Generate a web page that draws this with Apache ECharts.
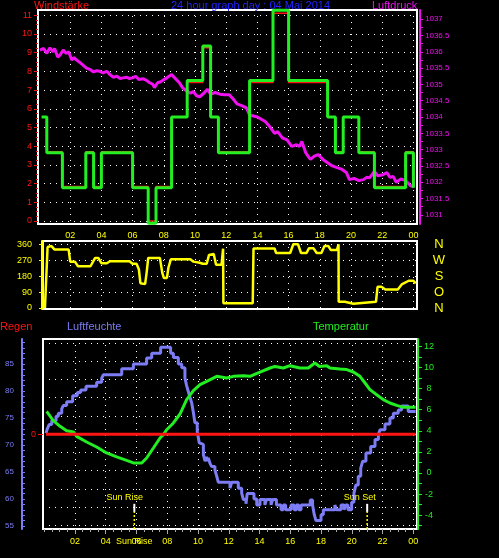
<!DOCTYPE html>
<html>
<head>
<meta charset="utf-8">
<script src="https://cdn.jsdelivr.net/npm/echarts@6/dist/echarts.min.js"></script>
<style>
html, body { margin: 0; padding: 0; background: #000; }
#chart { width: 499px; height: 558px; }
</style>
</head>
<body>
<div id="chart"></div>
<script>
// tick labels
var hourTicks = [2, 4, 6, 8, 10, 12, 14, 16, 18, 20, 22, 24]
var windTicks = [0, 1, 2, 3, 4, 5, 6, 7, 8, 9, 10, 11]
var pressureLabels = [1031, 1031.5, 1032, 1032.5, 1033, 1033.5, 1034, 1034.5, 1035, 1035.5, 1036, 1036.5, 1037]
var dirTicks = [0, 90, 180, 270, 360]
var dirNames = ['N', 'O', 'S', 'W', 'N']
var humLabels = [55, 60, 65, 70, 75, 80, 85]
var tempLabels = [-4, -2, 0, 2, 4, 6, 8, 10, 12]
var rainLabels = [0]

// wind (Windstärke), step changes: hour -> value
var windTimes = [0.17, 0.5, 1.5, 3.0, 3.5, 4.0, 6.0, 7.0, 7.5, 8.5, 9.5, 10.5, 11.0, 11.5, 13.5, 15.0, 16.0, 18.5, 19.0, 19.5, 20.5, 21.5, 23.5, 24.0]
var windGreen = [5.56, 3.65, 1.78, 3.65, 1.78, 3.65, 1.78, -0.12, 1.78, 5.56, 7.51, 9.36, 5.56, 3.65, 7.51, 11.27, 7.51, 5.56, 3.65, 5.56, 3.65, 1.78, 3.65, 1.78]
var windRed = [5.56, 3.70, 1.85, 3.70, 1.85, 3.70, 1.85, 0, 1.85, 5.56, 7.41, 9.26, 5.56, 3.70, 7.41, 11.11, 7.41, 5.56, 3.70, 5.56, 3.70, 1.85, 3.70, 1.85]

// Luftdruck
var pressureTimes = [0.06, 0.3, 0.5, 0.7, 0.9, 1.0, 1.2, 1.35, 1.55, 1.75, 1.9, 2.1, 2.25, 2.4, 2.6, 2.8, 3.05, 3.3, 3.5, 3.7, 3.9, 4.1, 4.35, 4.55, 4.75, 5.0, 5.2, 5.4, 5.6, 5.8, 6.0, 6.2, 6.4, 6.7, 6.9, 7.1, 7.3, 7.4, 7.6, 7.8, 7.95, 8.2, 8.5, 8.7, 8.8, 9.0, 9.2, 9.45, 9.7, 9.9, 10.1, 10.3, 10.55, 10.8, 11.0, 11.3, 11.6, 11.9, 12.2, 12.45, 12.7, 13.0, 13.3, 13.5, 14.0, 14.5, 14.8, 15.1, 15.3, 15.6, 15.9, 16.2, 16.5, 16.7, 16.85, 17.1, 17.4, 17.65, 17.9, 18.2, 18.5, 18.8, 19.1, 19.4, 19.7, 19.9, 20.2, 20.5, 20.8, 21.0, 21.2, 21.5, 21.7, 22.05, 22.3, 22.5, 22.7, 22.9, 23.2, 23.5, 23.8, 24.0]
var pressureValues = [1036.05, 1036.1, 1035.95, 1036.12, 1036.0, 1036.1, 1035.84, 1035.9, 1036.05, 1035.95, 1036.0, 1035.75, 1035.82, 1035.75, 1035.68, 1035.6, 1035.5, 1035.45, 1035.38, 1035.42, 1035.4, 1035.35, 1035.4, 1035.3, 1035.22, 1035.25, 1035.18, 1035.2, 1035.22, 1035.18, 1035.2, 1035.25, 1035.15, 1035.17, 1035.12, 1035.05, 1035.0, 1034.9, 1035.05, 1035.08, 1035.13, 1035.2, 1035.3, 1035.2, 1035.23, 1035.05, 1034.9, 1034.8, 1034.73, 1034.78, 1034.65, 1034.62, 1034.72, 1034.85, 1034.7, 1034.75, 1034.7, 1034.68, 1034.68, 1034.55, 1034.4, 1034.35, 1034.28, 1034.06, 1034.0, 1033.86, 1033.7, 1033.5, 1033.55, 1033.36, 1033.3, 1033.1, 1033.15, 1033.1, 1033.25, 1032.9, 1032.7, 1032.8, 1032.85, 1032.7, 1032.6, 1032.5, 1032.45, 1032.4, 1032.3, 1032.08, 1032.12, 1032.05, 1032.08, 1032.15, 1032.14, 1032.33, 1032.2, 1032.23, 1032.3, 1032.15, 1032.18, 1032.0, 1032.1, 1032.05, 1031.9, 1031.86]

// Windrichtung (degrees)
var dirTimes = [0.38, 0.55, 0.8, 1.0, 1.9, 2.0, 2.3, 2.5, 3.3, 3.6, 3.8, 4.0, 4.35, 4.55, 5.8, 6.0, 6.25, 6.4, 6.5, 6.8, 6.9, 7.0, 7.75, 7.9, 8.0, 8.2, 8.3, 8.45, 9.7, 9.9, 10.3, 10.5, 10.75, 10.9, 11.0, 11.2, 11.35, 11.7, 11.8, 11.82, 13.7, 13.75, 15.1, 15.2, 16.1, 16.3, 16.6, 16.8, 17.15, 17.3, 17.6, 17.8, 18.1, 18.3, 18.55, 18.7, 19.1, 19.2, 19.21, 19.6, 19.7, 20.15, 20.25, 21.6, 21.7, 21.95, 22.2, 23.0, 23.25, 23.7, 24.0, 24.15]
var dirValues = [0, 345, 350, 330, 330, 262, 262, 236, 236, 283, 283, 253, 253, 264, 264, 250, 250, 219, 140, 135, 200, 283, 283, 200, 170, 170, 230, 275, 275, 262, 256, 250, 250, 300, 305, 305, 245, 245, 335, 27, 27, 336, 336, 311, 311, 360, 360, 311, 311, 337, 337, 311, 311, 350, 350, 328, 328, 360, 35, 35, 24, 24, 35, 35, 120, 120, 105, 105, 133, 154, 154, 139]

// Luftfeuchte, step changes
var humTimes = [0.12, 0.2, 0.33, 0.49, 0.77, 0.92, 1.14, 1.24, 1.46, 1.85, 2.15, 2.37, 2.72, 3.41, 3.74, 3.84, 5.04, 5.8, 6.66, 6.99, 7.57, 8.22, 8.4, 8.72, 8.94, 9.15, 9.26, 9.37, 9.48, 9.59, 9.7, 9.8, 9.95, 10.08, 10.2, 10.35, 10.46, 10.55, 10.62, 10.67, 10.78, 10.89, 11.1, 11.22, 11.32, 12.08, 12.19, 12.62, 12.84, 12.95, 13.12, 13.2, 13.64, 13.82, 14.03, 14.35, 14.45, 14.75, 14.85, 15.1, 15.4, 15.55, 15.7, 16.05, 16.25, 16.4, 16.55, 16.7, 17.3, 17.45, 17.56, 17.67, 18.0, 18.15, 18.9, 19.0, 19.3, 19.5, 19.6, 19.75, 19.99, 20.14, 20.27, 20.42, 20.58, 20.71, 20.92, 21.23, 21.51, 21.73, 21.83, 22.16, 22.48, 22.7, 23.02, 23.24, 23.67, 24.15]
var humValues = [72.2, 73, 73.8, 74.5, 75.3, 75.9, 76.7, 77.3, 78, 79.1, 79.7, 80.2, 80.9, 81.6, 82.4, 83, 84.1, 85, 86.1, 87, 88.1, 87, 86.2, 85, 84.3, 82.4, 81, 79.9, 78.8, 77.8, 76, 74.1, 72.5, 70.4, 70.1, 68.2, 67, 67.8, 67, 67.6, 66.6, 66, 65.4, 64.2, 63.1, 62, 63.1, 62, 61.1, 59.9, 59.1, 61, 60, 58.9, 59.9, 58.9, 59.9, 58.9, 59.9, 58.9, 58, 58.9, 58, 58.9, 58, 58.9, 58, 58.9, 59.8, 58.9, 57.1, 56, 57.1, 58, 58.9, 58, 58.9, 58, 58.9, 58, 59.4, 61.1, 62.6, 64.2, 65.7, 67, 68.5, 69.7, 71, 71.9, 72.8, 73.9, 75, 75.9, 76.5, 77.2, 76.2, 76.2]

// Temperatur
var tempTimes = [0.16, 0.59, 1.03, 1.46, 1.9, 2.11, 2.76, 3.41, 4.06, 4.71, 5.36, 5.8, 6.34, 6.66, 7.1, 7.53, 7.75, 7.96, 8.4, 8.83, 9.26, 9.7, 10.13, 10.57, 11.22, 11.87, 12.3, 12.95, 13.38, 14.03, 14.68, 15.0, 15.55, 15.98, 16.63, 17.17, 17.6, 17.9, 18.37, 18.58, 19.23, 19.67, 20.1, 20.53, 20.86, 21.18, 21.62, 22.05, 22.48, 22.92, 23.35, 24.15]
var tempValues = [5.84, 4.96, 4.42, 4.0, 3.89, 3.47, 2.94, 2.46, 1.9, 1.52, 1.19, 0.95, 0.95, 1.42, 2.37, 3.32, 3.63, 4.1, 4.74, 5.59, 6.95, 7.8, 8.37, 8.68, 9.16, 9.0, 9.16, 9.22, 9.16, 9.57, 9.95, 10.1, 9.95, 10.17, 9.95, 9.95, 10.42, 10.1, 10.17, 9.95, 9.86, 9.8, 9.57, 9.16, 8.53, 7.9, 7.42, 6.95, 6.63, 6.41, 6.22, 6.22]

// Regen
var rainTimes = [0.12, 24.15]
var rainValues = [0, 0]

// Sonnenauf- / -untergang
var sunTimes = [5.86, 21.0]
var sunNames = ['Sun Rise', 'Sun Set']

var RED = '#ff1414'
var GREEN = '#22ee22'
var MAGENTA = '#f010f0'
var YELLOW = '#ffff00'
var BLUE = '#7c7cf4'

function zip (a, b) {
  return a.map(function (t, i) { return [t, b[i]] })
}
function hh (v) {
  var h = Math.round(v) % 24
  return (h < 10 ? '0' : '') + h
}
function plain (v) {
  return String(v)
}
function steps (from, to, step) {
  var out = []
  for (var v = from; v <= to + 1e-9; v += step) out.push(Math.round(v * 100) / 100)
  return out
}

var dotted = { color: '#ffffff', width: 1, type: [1, 5] }
var noLine = { show: false, onZero: false }
var noSplit = { show: false }
var frame = { show: true, borderColor: '#ffffff', borderWidth: 2, backgroundColor: 'transparent' }
var font = 'Liberation Sans, Arial, sans-serif'

// x range of each panel (hours at the frame edges)
var xTop = [-0.064, 24.23]
var xMid = [0.256, 24.23]
var xBot = [-0.078, 24.24]

var sunSeries = []
sunTimes.forEach(function (t, i) {
  sunSeries.push({
    type: 'line', xAxisIndex: 2, yAxisIndex: 5, z: 8,
    data: [[t, 54.44], [t, 57.6]],
    showSymbol: false, clip: false,
    lineStyle: { color: YELLOW, width: 1.5, type: [2, 2] }
  })
  sunSeries.push({
    type: 'line', xAxisIndex: 2, yAxisIndex: 5, z: 9,
    data: [[t, 57.6], [t, 59.1]],
    showSymbol: false, clip: false,
    lineStyle: { color: '#ffffff', width: 2 },
    endLabel: {
      show: true, formatter: sunNames[i], color: YELLOW, fontSize: 9, fontFamily: font,
      align: 'center', verticalAlign: 'bottom', offset: [-(sunNames[i].length * 2.2), -2]
    }
  })
})

var chart = echarts.init(document.getElementById('chart'))
chart.setOption({
  animation: false,
  backgroundColor: '#000',
  textStyle: { fontFamily: font },
  title: [
    { text: 'Windstärke', left: 34, top: 0, padding: 0, textStyle: { color: RED, fontSize: 11, fontWeight: 'normal' } },
    { text: '24 hour graph day : 04 Mai 2014', left: 171, top: 0, padding: 0, textStyle: { color: '#2222ff', fontSize: 11, fontWeight: 'normal' } },
    { text: 'Luftdruck', left: 372, top: 0, padding: 0, textStyle: { color: MAGENTA, fontSize: 11, fontWeight: 'normal' } },
    { text: 'Regen', left: 0, top: 321, padding: 0, textStyle: { color: RED, fontSize: 11, fontWeight: 'normal' } },
    { text: 'Luftfeuchte', left: 67, top: 321, padding: 0, textStyle: { color: BLUE, fontSize: 11, fontWeight: 'normal' } },
    { text: 'Temperatur', left: 313, top: 321, padding: 0, textStyle: { color: GREEN, fontSize: 11, fontWeight: 'normal' } }
  ],
  grid: [
    Object.assign({ left: 38, top: 10, width: 379, height: 214 }, frame),
    Object.assign({ left: 43, top: 241, width: 374, height: 68 }, frame),
    Object.assign({ left: 43, top: 339, width: 374, height: 190 }, frame)
  ],
  xAxis: [
    {
      gridIndex: 0, type: 'value', position: 'bottom', min: xTop[0], max: xTop[1],
      axisLine: noLine,
      axisTick: { show: false, customValues: hourTicks },
      splitLine: { show: true, lineStyle: dotted },
      axisLabel: { customValues: hourTicks, formatter: hh, color: YELLOW, fontSize: 9, margin: 7 }
    },
    {
      gridIndex: 1, type: 'value', position: 'bottom', min: xMid[0], max: xMid[1],
      axisLine: noLine,
      axisTick: { show: false, customValues: hourTicks },
      splitLine: { show: true, lineStyle: dotted },
      axisLabel: { show: false }
    },
    {
      gridIndex: 2, type: 'value', position: 'bottom', min: xBot[0], max: xBot[1],
      axisLine: noLine,
      axisTick: { show: true, customValues: hourTicks, length: 5, lineStyle: { color: '#aaaaaa' } },
      splitLine: { show: true, lineStyle: dotted },
      axisLabel: { customValues: hourTicks, formatter: hh, color: YELLOW, fontSize: 9, margin: 8 }
    },
    {
      gridIndex: 2, type: 'value', position: 'bottom', min: xBot[0], max: xBot[1],
      axisLine: noLine,
      axisTick: { show: true, customValues: steps(0, 24, 0.5), length: 3, lineStyle: { color: '#aaaaaa' } },
      splitLine: noSplit,
      axisLabel: { customValues: [sunTimes[0]], formatter: function () { return sunNames[0] }, color: YELLOW, fontSize: 9, margin: 8 }
    }
  ],
  yAxis: [
    {
      gridIndex: 0, type: 'value', position: 'left', min: -0.16, max: 11.28,
      axisLine: noLine,
      axisTick: { show: true, customValues: windTicks, length: 4, lineStyle: { color: RED } },
      splitLine: { show: true, lineStyle: dotted },
      axisLabel: { customValues: windTicks, color: RED, fontSize: 9, margin: 6 }
    },
    {
      gridIndex: 0, type: 'value', position: 'left', min: -0.16, max: 11.28,
      axisLine: noLine,
      axisTick: { show: true, customValues: steps(0, 11, 0.25), length: 2, lineStyle: { color: RED } },
      splitLine: noSplit,
      axisLabel: { show: false }
    },
    {
      gridIndex: 0, type: 'value', position: 'right', min: 1030.72, max: 1037.28, offset: 3,
      axisLine: { show: true, onZero: false, lineStyle: { color: MAGENTA, width: 2 } },
      axisTick: { show: true, customValues: steps(1031, 1037, 0.25), length: 3, lineStyle: { color: MAGENTA } },
      splitLine: noSplit,
      axisLabel: { customValues: pressureLabels, formatter: plain, color: MAGENTA, fontSize: 8, margin: 5 }
    },
    {
      gridIndex: 1, type: 'value', position: 'left', min: -5.6, max: 378.6, offset: 1,
      axisLine: { show: true, onZero: false, lineStyle: { color: YELLOW, width: 2 } },
      axisTick: { show: true, customValues: dirTicks, length: 3, lineStyle: { color: YELLOW } },
      splitLine: { show: true, lineStyle: dotted },
      axisLabel: { customValues: dirTicks, color: YELLOW, fontSize: 9, margin: 10 }
    },
    {
      gridIndex: 1, type: 'value', position: 'right', min: -5.6, max: 378.6,
      axisLine: noLine,
      axisTick: { show: false, customValues: dirTicks },
      splitLine: noSplit,
      axisLabel: {
        customValues: dirTicks, color: YELLOW, fontSize: 13, margin: 22, align: 'center',
        formatter: function (v) { return dirNames[dirTicks.indexOf(v)] }
      }
    },
    {
      gridIndex: 2, type: 'value', position: 'left', min: 54.44, max: 89.63, offset: 21,
      axisLine: { show: true, onZero: false, lineStyle: { color: BLUE, width: 2 } },
      axisTick: { show: true, inside: true, customValues: steps(55, 89, 1), length: 3, lineStyle: { color: BLUE } },
      splitLine: noSplit,
      axisLabel: { customValues: humLabels, color: BLUE, fontSize: 8, margin: 8 }
    },
    {
      gridIndex: 2, type: 'value', position: 'right', min: -5.31, max: 12.70, offset: 1,
      axisLine: { show: true, onZero: false, lineStyle: { color: GREEN, width: 2 } },
      axisTick: { show: true, customValues: steps(-5, 12, 1), length: 4, lineStyle: { color: GREEN } },
      splitLine: noSplit,
      axisLabel: { customValues: tempLabels, color: GREEN, fontSize: 9, margin: 11, align: 'center' }
    },
    {
      // only carries the dotted rows of the lower panel
      gridIndex: 2, type: 'value', position: 'left', min: -5.19, max: 5.21,
      axisLine: noLine,
      axisTick: { show: false, customValues: steps(-5, 5, 1) },
      splitLine: { show: true, lineStyle: dotted },
      axisLabel: { show: false }
    },
    {
      gridIndex: 2, type: 'value', position: 'left', min: -5.19, max: 5.21,
      axisLine: noLine,
      axisTick: { show: true, customValues: rainLabels, length: 5, lineStyle: { color: RED } },
      splitLine: noSplit,
      axisLabel: { customValues: rainLabels, color: RED, fontSize: 9, margin: 7 }
    }
  ],
  series: [
    {
      name: 'Luftdruck', type: 'line', xAxisIndex: 0, yAxisIndex: 2, z: 2,
      data: zip(pressureTimes, pressureValues), showSymbol: false,
      lineStyle: { color: MAGENTA, width: 3 }
    },
    {
      name: 'Windstärke max', type: 'line', step: 'end', xAxisIndex: 0, yAxisIndex: 0, z: 3,
      data: zip(windTimes, windRed), showSymbol: false, clip: false,
      lineStyle: { color: RED, width: 1.5 }
    },
    {
      name: 'Windstärke', type: 'line', step: 'end', xAxisIndex: 0, yAxisIndex: 0, z: 4,
      data: zip(windTimes, windGreen), showSymbol: false, clip: false,
      lineStyle: { color: GREEN, width: 3 }
    },
    {
      name: 'Windrichtung', type: 'line', xAxisIndex: 1, yAxisIndex: 3,
      data: zip(dirTimes, dirValues), showSymbol: false, clip: false,
      lineStyle: { color: YELLOW, width: 2.5 }
    },
    {
      name: 'Luftfeuchte', type: 'line', step: 'end', xAxisIndex: 2, yAxisIndex: 5, z: 3,
      data: zip(humTimes, humValues), showSymbol: false,
      lineStyle: { color: BLUE, width: 3 }
    },
    {
      name: 'Temperatur', type: 'line', xAxisIndex: 2, yAxisIndex: 6, z: 4,
      data: zip(tempTimes, tempValues), showSymbol: false,
      lineStyle: { color: GREEN, width: 3 }
    },
    {
      name: 'Regen', type: 'line', xAxisIndex: 2, yAxisIndex: 8, z: 5,
      data: zip(rainTimes, rainValues), showSymbol: false,
      lineStyle: { color: RED, width: 3 }
    }
  ].concat(sunSeries)
})
</script>
</body>
</html>
